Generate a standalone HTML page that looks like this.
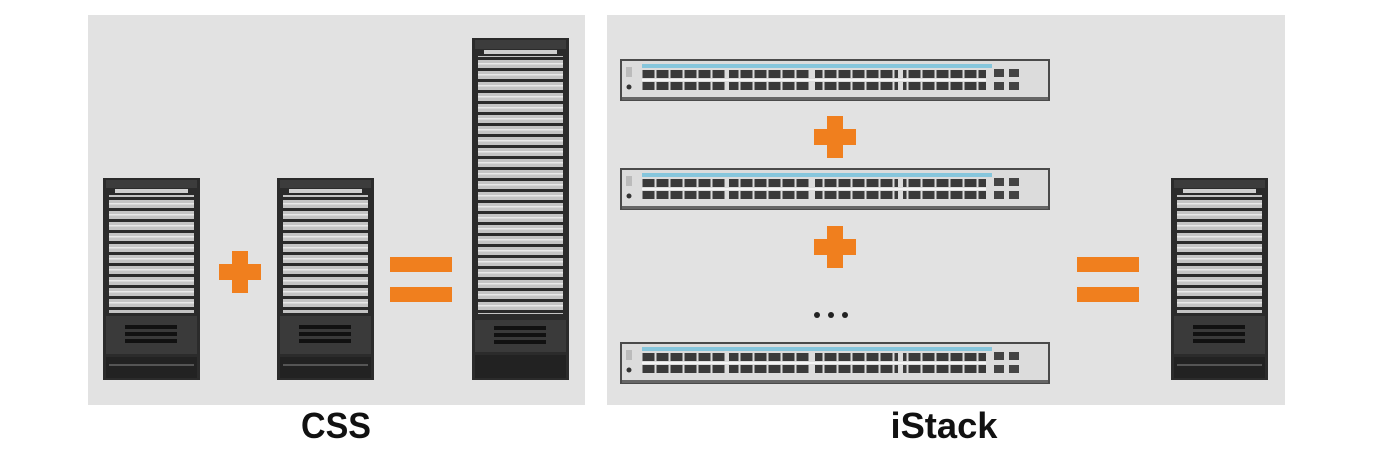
<!DOCTYPE html>
<html><head><meta charset="utf-8"><style>
html,body{margin:0;padding:0;background:#fff;width:1384px;height:452px;overflow:hidden}
svg{display:block}
.lbl{font-family:"Liberation Sans",sans-serif;font-weight:bold;font-size:36px;fill:#111}
</style></head><body>
<svg width="1384" height="452" viewBox="0 0 1384 452" xmlns="http://www.w3.org/2000/svg">
<defs>
<pattern id="ports" x="22" y="11" width="14" height="12" patternUnits="userSpaceOnUse">
  <rect x="0.5" y="0" width="12" height="8" fill="#3a3a3a"/>
</pattern>
<pattern id="slot" x="0" y="0" width="10" height="11" patternUnits="userSpaceOnUse">
  <rect x="0" y="0" width="10" height="8" fill="#c4c4c4"/>
  <rect x="0" y="3" width="10" height="1.5" fill="#e8e8e8"/>
</pattern>
<g id="chassis">
  <rect x="0" y="0" width="97" height="202" fill="#2b2b2b"/>
  <rect x="3" y="2" width="91" height="8" fill="#3c3c3c"/>
  <rect x="12" y="11" width="73" height="4" fill="#cfcfcf"/>
  <rect x="6" y="17" width="85" height="118" fill="url(#slot)"/>
  <rect x="3" y="138" width="91" height="38" fill="#3a3a3a"/>
  <rect x="22" y="147" width="52" height="4" fill="#111"/>
  <rect x="22" y="154" width="52" height="4" fill="#111"/>
  <rect x="22" y="161" width="52" height="4" fill="#111"/>
  <rect x="3" y="179" width="91" height="21" fill="#222"/>
  <rect x="6" y="186" width="85" height="2" fill="#555"/>
</g>
<g id="tall">
  <rect x="0" y="0" width="97" height="342" fill="#2b2b2b"/>
  <rect x="3" y="2" width="91" height="9" fill="#3c3c3c"/>
  <rect x="12" y="12" width="73" height="4" fill="#cfcfcf"/>
  <rect x="6" y="18" width="85" height="258" fill="url(#slot)"/>
  <rect x="3" y="282" width="91" height="32" fill="#3a3a3a"/>
  <rect x="22" y="288" width="52" height="4" fill="#111"/>
  <rect x="22" y="295" width="52" height="4" fill="#111"/>
  <rect x="22" y="302" width="52" height="4" fill="#111"/>
  <rect x="3" y="317" width="91" height="23" fill="#222"/>
</g>
<g id="sw">
  <rect x="1" y="1" width="428" height="40" fill="#dcdcdc" stroke="#4a4a4a" stroke-width="2"/>
  <rect x="2" y="38" width="426" height="3" fill="#666"/>
  <rect x="22" y="5" width="350" height="4" fill="#86c6dc"/>
  <rect x="22" y="11" width="84" height="20" fill="url(#ports)"/>
  <rect x="106" y="11" width="84" height="20" fill="url(#ports)"/>
  <rect x="194" y="11" width="84" height="20" fill="url(#ports)"/>
  <rect x="282" y="11" width="84" height="20" fill="url(#ports)"/>
  <rect x="106" y="11" width="3" height="20" fill="#dcdcdc"/>
  <rect x="192" y="11" width="3" height="20" fill="#dcdcdc"/>
  <rect x="280" y="11" width="3" height="20" fill="#dcdcdc"/>
  <rect x="22" y="20" width="344" height="2" fill="#f4f4f4"/>
  <rect x="374" y="10" width="10" height="8" fill="#444"/><rect x="389" y="10" width="10" height="8" fill="#444"/>
  <rect x="374" y="23" width="10" height="8" fill="#444"/><rect x="389" y="23" width="10" height="8" fill="#444"/>
  <circle cx="9" cy="28" r="2.5" fill="#333"/>
  <rect x="6" y="8" width="6" height="10" fill="#bbb"/>
</g>
<g id="plus"><rect x="-8" y="-21" width="16" height="42" fill="#f07f1e"/><rect x="-21" y="-8" width="42" height="16" fill="#f07f1e"/></g>
</defs>

<rect x="88" y="15" width="497" height="390" fill="#e2e2e2"/>
<rect x="607" y="15" width="678" height="390" fill="#e2e2e2"/>

<use href="#chassis" x="103" y="178"/>
<use href="#chassis" x="277" y="178"/>
<use href="#tall" x="472" y="38"/>
<use href="#plus" x="240" y="272"/>
<rect x="390" y="257" width="62" height="15" fill="#f07f1e"/>
<rect x="390" y="287" width="62" height="15" fill="#f07f1e"/>

<use href="#sw" x="620" y="59"/>
<use href="#sw" x="620" y="168"/>
<use href="#sw" x="620" y="342"/>
<use href="#plus" x="835" y="137"/>
<use href="#plus" x="835" y="247"/>
<circle cx="817" cy="315" r="3" fill="#222"/><circle cx="831" cy="315" r="3" fill="#222"/><circle cx="845" cy="315" r="3" fill="#222"/>
<rect x="1077" y="257" width="62" height="15" fill="#f07f1e"/>
<rect x="1077" y="287" width="62" height="15" fill="#f07f1e"/>
<use href="#chassis" x="1171" y="178"/>

<text class="lbl" x="336" y="438" text-anchor="middle" textLength="70" lengthAdjust="spacingAndGlyphs">CSS</text>
<text class="lbl" x="944" y="438" text-anchor="middle" textLength="107" lengthAdjust="spacingAndGlyphs">iStack</text>
</svg>
</body></html>
